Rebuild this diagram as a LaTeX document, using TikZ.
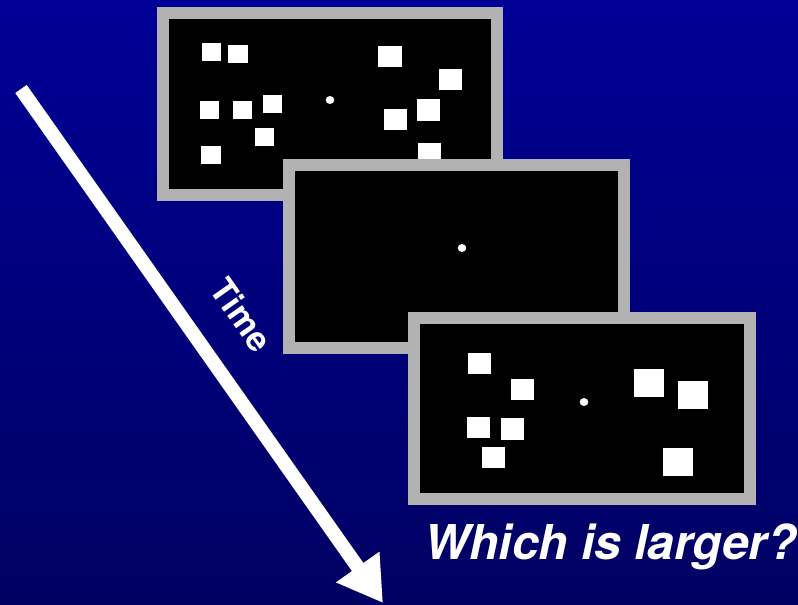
\documentclass[tikz,border=0pt]{standalone}
\usepackage{fontspec}
\setmainfont{TeX Gyre Heros}
\usetikzlibrary{arrows.meta}
\definecolor{bgtop}{RGB}{0,0,150}
\definecolor{bgbot}{RGB}{0,0,98}
\definecolor{framegray}{RGB}{178,178,178}
\newcommand\stimframe[4]{%
  \fill[framegray] (#1,#2) rectangle (#3,#4);
  \fill[black] (#1+12,#2+12) rectangle (#3-12,#4-12);}
\begin{document}
\begin{tikzpicture}[x=1pt,y=-1pt,
  sq/.style={fill=white},
  fixdot/.style={fill=white},
  label/.style={text=white,inner sep=0pt}]
\useasboundingbox (0,0) rectangle (798,605);
\shade[top color=bgtop,bottom color=bgbot] (0,0) rectangle (798,605);
% frame 1
\stimframe{157}{7}{503}{201}
\foreach \a/\b/\c/\d in {202/43/221/61, 228/45/248/63, 200/101/219/119, 233/101/252/119, 263/95/282/113, 255/128/274/146, 201/146/221/164, 378/46/402/67, 439/69/462/90, 384/109/407/130, 417/99/440/121, 418/143/441/165}
  \fill[sq] (\a,\b) rectangle (\c,\d);
\fill[fixdot] (330,100) ellipse [x radius=4.3pt, y radius=4pt];
% frame 2
\stimframe{283}{159}{630}{354}
\fill[fixdot] (462,248) ellipse [x radius=4.3pt, y radius=4pt];
% frame 3
\stimframe{408}{312}{756}{505}
\foreach \a/\b/\c/\d in {468/353/491/374, 511/379/534/400, 467/417/490/438, 501/418/524/440, 482/447/505/468, 634/369/664/397, 678/381/708/409, 663/448/693/476}
  \fill[sq] (\a,\b) rectangle (\c,\d);
\fill[fixdot] (584,402) ellipse [x radius=4.3pt, y radius=4pt];
% time arrow
\coordinate (tstart) at (21,89);
\coordinate (tend) at (383,603);
\draw[white, line width=14pt, -{Triangle[length=44pt,width=50pt]}] (tstart) -- (tend);
\node[label, rotate=-54.8, font=\bfseries\fontsize{34}{40}\selectfont] (timelabel) at (242,315) {Time};
\node[label, anchor=base west, font=\bfseries\itshape\fontsize{48}{58}\selectfont] (question) at (424,559) {Which is larger?};
\end{tikzpicture}
\end{document}
